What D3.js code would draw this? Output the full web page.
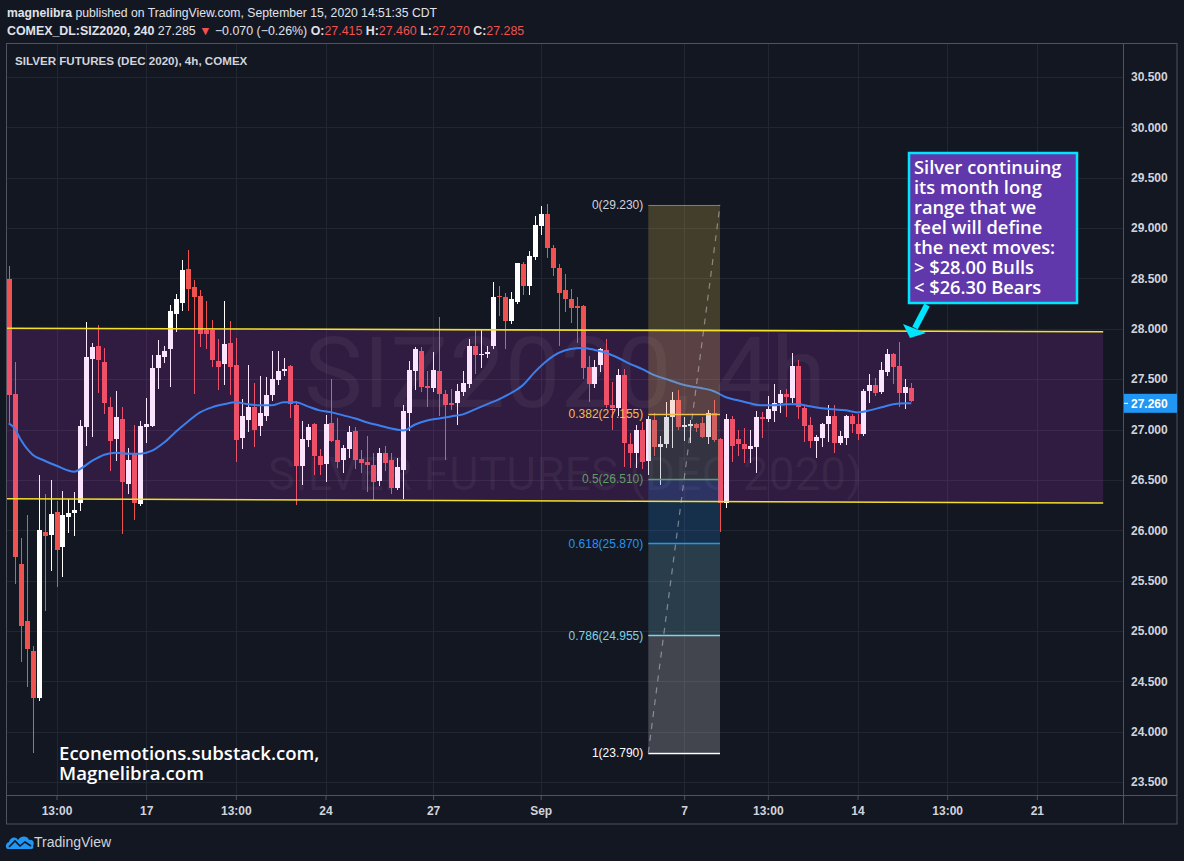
<!DOCTYPE html>
<html><head><meta charset="utf-8">
<script src="https://cdn.jsdelivr.net/npm/d3@7/dist/d3.min.js"></script>
<style>
html,body{margin:0;padding:0;background:#131722;}
svg{display:block}
</style></head><body>
<svg id="chart" width="1184" height="861"></svg>
<script>
// ---------- DATA ----------
const opens  = [28.49,27.35,25.66,25.10,24.80,24.33,25.98,25.95,26.18,25.83,26.13,26.17,26.27,27.02,27.70,27.83,27.67,27.22,26.91,27.10,26.46,26.76,26.26,27.02,27.03,27.61,27.72,27.80,28.15,28.26,28.59,28.41,28.33,27.99,27.99,27.68,27.65,27.86,27.64,26.92,27.09,27.22,27.03,27.13,27.34,27.49,27.58,27.63,27.24,26.64,26.90,27.05,26.74,26.66,27.06,26.90,26.70,26.81,26.99,26.71,26.68,26.65,26.49,26.77,26.70,26.42,26.60,27.16,27.58,27.78,27.43,27.41,27.58,27.35,27.26,27.26,27.37,27.45,27.83,27.74,27.75,27.83,28.33,28.32,28.08,28.27,28.64,28.42,28.71,29.02,29.14,28.80,28.60,28.39,28.30,28.23,28.23,27.62,27.45,27.64,27.79,27.24,27.21,27.54,26.86,26.77,27.00,26.69,27.09,26.83,26.86,27.12,27.29,27.02,27.03,27.05,27.06,26.93,27.16,26.91,26.27,27.10,26.91,26.86,26.81,26.83,27.12,27.10,27.18,27.26,27.35,27.31,27.63,27.21,27.04,26.89,26.92,27.05,27.13,26.87,26.92,27.13,27.05,26.96,27.38,27.44,27.37,27.57,27.75,27.63,27.36,27.415];
const highs  = [28.62,27.67,25.92,26.15,24.85,26.55,26.36,26.50,26.29,26.39,26.31,26.38,27.09,28.07,27.86,28.04,27.81,27.32,27.38,27.22,26.82,27.04,27.08,27.31,27.74,27.89,27.83,28.24,28.35,28.68,28.78,28.48,28.39,28.28,28.09,27.90,28.28,28.08,27.91,27.30,27.64,27.46,27.53,27.52,27.78,27.78,27.71,27.64,27.28,27.08,27.05,27.06,26.81,27.14,27.50,27.11,26.85,27.03,27.02,26.80,26.94,26.77,26.82,26.84,26.77,26.72,27.24,27.68,27.82,27.82,27.58,27.77,28.12,27.39,27.40,27.45,27.58,27.90,27.99,27.99,27.83,28.46,28.42,28.36,28.37,28.65,28.66,28.77,29.12,29.22,29.24,28.83,28.64,28.54,28.40,28.32,28.24,27.73,27.69,27.81,27.90,27.47,27.60,27.60,26.97,27.04,27.07,27.13,27.16,26.94,27.27,27.37,27.39,27.12,27.09,27.06,27.12,27.19,27.29,26.92,27.15,27.13,27.00,27.01,27.00,27.18,27.17,27.33,27.45,27.39,27.40,27.76,27.69,27.23,27.12,26.95,27.06,27.24,27.24,26.99,27.14,27.15,27.15,27.40,27.55,27.51,27.67,27.80,27.76,27.87,27.50,27.46];
const lows   = [27.06,25.47,24.69,24.44,23.79,24.30,25.20,25.60,25.44,25.54,25.97,25.94,26.19,26.84,26.93,27.36,27.15,26.59,26.69,25.96,26.36,26.10,26.24,26.87,27.02,27.40,27.66,27.42,27.97,28.18,28.18,27.35,27.82,27.80,27.62,27.39,27.44,27.34,26.68,26.81,26.98,26.83,26.94,27.08,27.28,27.44,27.53,27.11,26.25,26.45,26.83,26.55,26.55,26.48,26.88,26.62,26.57,26.72,26.61,26.57,26.38,26.30,26.44,26.59,26.36,26.40,26.31,26.99,27.39,27.37,27.22,27.37,27.13,26.70,27.19,27.04,27.33,27.41,27.55,27.61,27.71,27.80,28.13,27.80,28.05,28.25,28.34,28.34,28.68,28.93,28.70,28.52,27.83,28.17,28.06,27.86,27.50,27.27,27.41,27.57,27.21,27.00,27.13,26.63,26.62,26.62,26.61,26.55,26.74,26.45,26.82,26.82,27.00,26.89,26.87,26.98,26.92,26.86,26.88,25.98,26.22,26.68,26.74,26.67,26.67,26.57,26.92,27.07,27.07,27.16,27.12,27.26,27.10,26.88,26.82,26.72,26.83,26.88,26.77,26.85,26.85,26.97,26.90,26.94,27.26,27.33,27.35,27.53,27.45,27.22,27.20,27.27];
const closes = [27.34,25.73,25.05,24.82,24.33,26.00,25.94,26.16,25.80,26.15,26.17,26.20,27.03,27.72,27.82,27.69,27.26,26.89,27.12,26.48,26.70,26.27,27.03,27.05,27.61,27.74,27.78,28.18,28.30,28.58,28.40,28.32,27.95,27.95,27.69,27.62,27.85,27.62,26.90,27.13,27.22,27.00,27.16,27.34,27.50,27.58,27.60,27.25,26.64,26.91,27.02,26.74,26.65,27.05,26.89,26.68,26.82,26.98,26.70,26.67,26.65,26.48,26.77,26.67,26.42,26.63,27.18,27.59,27.80,27.42,27.41,27.59,27.35,27.24,27.24,27.38,27.46,27.83,27.74,27.75,27.77,28.32,28.32,28.08,28.30,28.65,28.42,28.72,29.03,29.14,28.80,28.60,28.36,28.30,28.21,28.21,27.61,27.45,27.62,27.80,27.24,27.21,27.54,26.87,26.77,27.00,26.68,27.10,26.83,26.86,27.12,27.29,27.02,27.04,27.05,27.01,26.93,27.16,26.90,26.27,27.10,26.84,26.86,26.81,26.84,27.12,27.10,27.20,27.26,27.35,27.32,27.63,27.22,27.03,26.89,26.93,27.05,27.13,26.87,26.94,27.13,27.05,26.96,27.38,27.44,27.36,27.59,27.75,27.62,27.36,27.42,27.285];

const maIndex  = [0,1,2,4,6,8,11,12,14,16,18,20,22,24,26,28,30,32,34,36,38,40,42,44,46,48,50,52,54,56,58,60,62,64,66,68,70,72,74,76,78,80,82,84,86,88,90,92,94,96,98,100,102,104,106,108,110,112,114,116,118,120,122,124,126,128,130,132,134,136,138,140,142,144,146,148,150,151];
const maValues = [27.06,27.01,26.90,26.75,26.69,26.64,26.58,26.61,26.69,26.75,26.77,26.76,26.76,26.79,26.87,26.98,27.08,27.17,27.22,27.25,27.27,27.25,27.24,27.24,27.27,27.27,27.23,27.19,27.17,27.14,27.11,27.07,27.04,27.01,26.99,27.05,27.09,27.11,27.13,27.15,27.20,27.25,27.30,27.36,27.44,27.57,27.68,27.76,27.80,27.81,27.79,27.76,27.71,27.65,27.60,27.54,27.50,27.46,27.43,27.41,27.38,27.32,27.29,27.26,27.24,27.24,27.25,27.25,27.23,27.21,27.20,27.19,27.17,27.19,27.22,27.25,27.26,27.26];

const priceTicks = [30.5,30.0,29.5,29.0,28.5,28.0,27.5,27.0,26.5,26.0,25.5,25.0,24.5,24.0,23.5];
const timeTickIndex  = [8,23,38,53,71,89,113,127,142,157,172];
const timeTickLabels = ["13:00","17","13:00","24","27","Sep","7","13:00","14","13:00","21"];

const channelIndex  = [-0.28,183.1];
const channelTop    = [28.005,27.971];
const channelBottom = [26.312,26.270];

const fibIndex  = [107,119];
const fibLevels = ["0","0.382","0.5","0.618","0.786","1"];
const fibPrices = [29.230,27.155,26.510,25.870,24.955,23.790];
const fibColors = ["#9598a1","#f0bc4c","#5f9f63","#2196f3","#7fd3e4","#ffffff"];
const fibFills  = [null,"rgba(240,200,80,0.22)","rgba(76,175,80,0.16)","rgba(33,150,243,0.2)","rgba(128,222,234,0.2)","rgba(255,255,255,0.2)"];

const lastPrice = 27.260;
const noteLines = ["Silver continuing","its month long","range that we","feel will define","the next moves:","> $28.00 Bulls","< $26.30 Bears"];

// ---------- SCALES ----------
const W = 1184, H = 861;
const plot = {l:7, r:1123, t:44, b:795};
const x = d3.scaleLinear().domain([0,151]).range([8.7,911.3]);
const y = d3.scaleLinear().domain([23.5,30.5]).range([782,77]);

const svg = d3.select("#chart");
const FONT = "'Liberation Sans', Arial, sans-serif";
const TXT = "#d1d4dc";
const RED = "#ef5350";

svg.append("rect").attr("width",W).attr("height",H).attr("fill","#131722");

svg.append("defs").append("clipPath").attr("id","plotclip")
  .append("rect").attr("x",plot.l).attr("y",plot.t).attr("width",plot.r-plot.l).attr("height",plot.b-plot.t);

const g = svg.append("g").attr("clip-path","url(#plotclip)");

// grid
g.append("g").selectAll("line").data(priceTicks).join("line")
  .attr("x1",plot.l).attr("x2",plot.r).attr("y1",d=>Math.round(y(d))+0.5).attr("y2",d=>Math.round(y(d))+0.5)
  .attr("stroke","#222631").attr("stroke-width",1);
g.append("g").selectAll("line").data(timeTickIndex).join("line")
  .attr("y1",plot.t).attr("y2",plot.b).attr("x1",d=>Math.round(x(d))+0.5).attr("x2",d=>Math.round(x(d))+0.5)
  .attr("stroke","#222631").attr("stroke-width",1);

// watermark
const cx = (plot.l+plot.r)/2;
g.append("text").attr("x",cx).attr("y",407).attr("text-anchor","middle")
  .attr("font-family","Roboto, sans-serif").attr("font-size",99).attr("fill","rgba(209,212,220,0.065)")
  .text("SIZ2020, 4h");
g.append("text").attr("x",cx).attr("y",490).attr("text-anchor","middle")
  .attr("font-family","Roboto, sans-serif").attr("font-size",46).attr("fill","rgba(209,212,220,0.065)")
  .text("SILVER FUTURES (DEC 2020)");

// candles
const candles = d3.range(opens.length).map(i=>({i,o:opens[i],h:highs[i],l:lows[i],c:closes[i]}));
const cg = g.append("g").attr("shape-rendering","crispEdges");
cg.selectAll("line").data(candles).join("line")
  .attr("x1",d=>Math.round(x(d.i))+0.5).attr("x2",d=>Math.round(x(d.i))+0.5)
  .attr("y1",d=>y(d.h)).attr("y2",d=>y(d.l))
  .attr("stroke",d=>d.c>=d.o?"#ffffff":RED).attr("stroke-width",1);
cg.selectAll("rect").data(candles).join("rect")
  .attr("x",d=>Math.round(x(d.i))-2).attr("width",5)
  .attr("y",d=>y(Math.max(d.o,d.c)))
  .attr("height",d=>Math.max(1.2,Math.abs(y(d.o)-y(d.c))))
  .attr("fill",d=>d.c>=d.o?"#ffffff":RED);

// channel fill
const chPoly = [[channelIndex[0],channelTop[0]],[channelIndex[1],channelTop[1]],[channelIndex[1],channelBottom[1]],[channelIndex[0],channelBottom[0]]];
g.append("path").attr("d","M"+chPoly.map(p=>[x(p[0]),y(p[1])].join(",")).join("L")+"Z")
  .attr("fill","rgba(224,64,251,0.14)");

// moving average
const maPts = maIndex.map((d,i)=>[d,maValues[i]]);
g.append("path").datum(maPts)
  .attr("d",d3.line().x(d=>x(d[0])).y(d=>y(d[1])).curve(d3.curveMonotoneX))
  .attr("fill","none").attr("stroke","#3b80ee").attr("stroke-width",2);

// fib band fills
const fx0 = x(fibIndex[0]), fx1 = x(fibIndex[1]);
for(let k=1;k<fibPrices.length;k++){
  g.append("rect").attr("x",fx0).attr("width",fx1-fx0)
    .attr("y",y(fibPrices[k-1])).attr("height",y(fibPrices[k])-y(fibPrices[k-1]))
    .attr("fill",fibFills[k]);
}

// channel lines
[channelTop,channelBottom].forEach(arr=>{
  g.append("line").attr("x1",x(channelIndex[0])).attr("x2",x(channelIndex[1]))
    .attr("y1",y(arr[0])).attr("y2",y(arr[1]))
    .attr("stroke","#f2e02a").attr("stroke-width",1.6);
});

// fib lines and labels
fibPrices.forEach((p,k)=>{
  g.append("line").attr("x1",fx0).attr("x2",fx1).attr("y1",Math.round(y(p))+0.5).attr("y2",Math.round(y(p))+0.5)
    .attr("stroke",fibColors[k]).attr("stroke-width",k===0?1:1.3).attr("stroke-opacity",k===0?0.7:1);
  g.append("text").attr("x",fx0-5).attr("y",y(p)+4.3).attr("text-anchor","end")
    .attr("font-family",FONT).attr("font-size",12).attr("fill",k===0?"#d1d4dc":fibColors[k])
    .text(fibLevels[k]+"("+p.toFixed(3)+")");
});
// dashed trend line
g.append("line").attr("x1",fx0).attr("y1",y(fibPrices[5])).attr("x2",fx1).attr("y2",y(fibPrices[0]))
  .attr("stroke","rgba(200,200,205,0.55)").attr("stroke-width",1.2).attr("stroke-dasharray","6,6");

// annotation box
const box = {x:909,y:153,w:168,h:150};
g.append("rect").attr("x",box.x).attr("y",box.y).attr("width",box.w).attr("height",box.h)
  .attr("fill","#6038ac").attr("stroke","#00e5ff").attr("stroke-width",2.5);
g.append("g").selectAll("text").data(noteLines).join("text")
  .attr("x",box.x+5).attr("y",(d,i)=>174.3+i*20)
  .attr("font-family","'Open Sans', sans-serif").attr("font-weight",600).attr("font-size",18.3)
  .attr("fill","#ffffff").text(d=>d);
// arrow
g.append("line").attr("x1",927).attr("y1",305).attr("x2",915).attr("y2",328)
  .attr("stroke","#00e5ff").attr("stroke-width",6);
g.append("path").attr("d","M903,324 L926,333 L910,338 Z").attr("fill","#00e5ff");

// econemotions text
g.append("text").attr("x",59).attr("y",760).attr("font-family","'Open Sans', sans-serif").attr("font-weight",600)
  .attr("font-size",18.6).attr("fill","#ffffff").text("Econemotions.substack.com,");
g.append("text").attr("x",59).attr("y",780).attr("font-family","'Open Sans', sans-serif").attr("font-weight",600)
  .attr("font-size",18.6).attr("fill","#ffffff").text("Magnelibra.com");

// title in pane
svg.append("text").attr("x",15).attr("y",65).attr("font-family",FONT).attr("font-weight","bold")
  .attr("font-size",11.6).attr("fill",TXT).text("SILVER FUTURES (DEC 2020), 4h, COMEX");

// ---------- AXES ----------
const yAxis = d3.axisRight(y).tickValues(priceTicks).tickFormat(d3.format(".3f")).tickSize(0).tickPadding(8);
const ya = svg.append("g").attr("transform",`translate(${plot.r},0)`).call(yAxis);
ya.select(".domain").remove();
ya.selectAll("text").attr("font-family",FONT).attr("font-size",12).attr("font-weight","bold").attr("fill",TXT);

const xAxis = d3.axisBottom(x).tickValues(timeTickIndex).tickFormat((d,i)=>timeTickLabels[i]).tickSize(5).tickPadding(6);
const xa = svg.append("g").attr("transform",`translate(0,${plot.b})`).call(xAxis);
xa.select(".domain").remove();
xa.selectAll("line").attr("stroke","#50535e");
xa.selectAll("text").attr("font-family",FONT).attr("font-size",12).attr("font-weight","bold").attr("fill",TXT);

// frame lines
svg.append("line").attr("x1",plot.l).attr("x2",1177).attr("y1",plot.b+0.5).attr("y2",plot.b+0.5).attr("stroke","#50535e");
svg.append("line").attr("x1",plot.r+0.5).attr("x2",plot.r+0.5).attr("y1",plot.t).attr("y2",824).attr("stroke","#50535e");
svg.append("rect").attr("x",6.5).attr("y",43.5).attr("width",1170.5).attr("height",780.5)
  .attr("fill","none").attr("stroke","#50535e");

// last price label
const ly = y(lastPrice);
svg.append("rect").attr("x",plot.r+1).attr("y",ly-9.5).attr("width",53).attr("height",19).attr("fill","#2196f3");
svg.append("line").attr("x1",plot.r+1).attr("x2",plot.r+5).attr("y1",ly).attr("y2",ly).attr("stroke","#ffffff");
svg.append("text").attr("x",1131).attr("y",ly+4.3).attr("font-family",FONT).attr("font-size",12).attr("font-weight","bold")
  .attr("fill","#ffffff").text(lastPrice.toFixed(3));

// ---------- HEADER ----------
const h1 = svg.append("text").attr("x",7).attr("y",16.5).attr("font-family",FONT).attr("font-size",12.2).attr("fill","#e0e3eb");
h1.append("tspan").attr("font-weight","bold").text("magnelibra");
h1.append("tspan").text(" published on TradingView.com, September 15, 2020 14:51:35 CDT");

const h2 = svg.append("text").attr("x",7).attr("y",34.5).attr("font-family",FONT).attr("font-size",12.4).attr("fill","#e0e3eb");
h2.append("tspan").attr("font-weight","bold").text("COMEX_DL:SIZ2020, 240");
h2.append("tspan").text("  27.285 ");
h2.append("tspan").attr("fill",RED).text("▼");
h2.append("tspan").text(" −0.070 (−0.26%) ");
[["O:","27.415"],["H:","27.460"],["L:","27.270"],["C:","27.285"]].forEach(([k,v],i)=>{
  h2.append("tspan").attr("font-weight","bold").text((i?" ":"")+k);
  h2.append("tspan").attr("fill",RED).text(v);
});

// ---------- FOOTER ----------
const logo = svg.append("g").attr("transform","translate(6,834)");
logo.append("path").attr("d","M2,15 C-1,15 -1,9 3,8 C4,3 10,2 12,6 C14,2 21,1 23,6 C27,5 29,9 27,12 C28,14 27,15 25,15 Z").attr("fill","#2196f3");
logo.append("path").attr("d","M3,13 L9,7 L14,12 L19,8 L25,12").attr("fill","none").attr("stroke","#131722").attr("stroke-width",1.6);
svg.append("text").attr("x",34).attr("y",847).attr("font-family",FONT).attr("font-size",14).attr("fill",TXT).text("TradingView");
</script>
</body></html>
